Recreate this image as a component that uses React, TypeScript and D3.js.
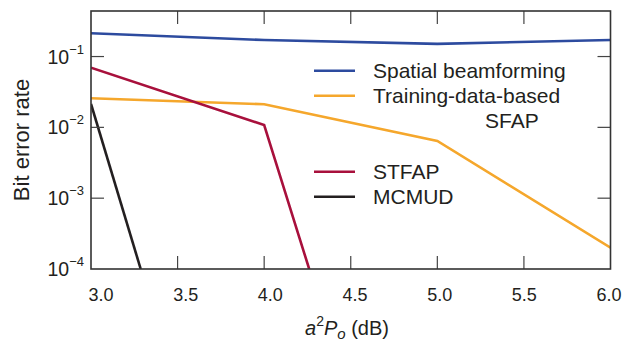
import React from "react";
import * as d3 from "d3";

const xTicks = [3.0, 3.5, 4.0, 4.5, 5.0, 5.5, 6.0];
const yTicks = [1e-1, 1e-2, 1e-3, 1e-4];
const yTickExp = ["−1", "−2", "−3", "−4"];

const spatialX = [3.0, 4.0, 5.0, 6.0];
const spatialY = [0.213, 0.171, 0.151, 0.171];
const trainingX = [3.0, 4.0, 5.0, 6.0];
const trainingY = [0.0258, 0.0212, 0.00643, 0.0002];
const stfapX = [3.0, 4.0, 4.26];
const stfapY = [0.0697, 0.0108, 0.0001];
const mcmudX = [3.0, 3.287];
const mcmudY = [0.0214, 0.0001];

const seriesNames = ["Spatial beamforming", "Training-data-based", "STFAP", "MCMUD"];
const colors = ["#2d4b9f", "#f5a72c", "#a8103c", "#231f20"];

const W = 630, H = 343;
const L = 91, R = 610.5, T = 11, B = 269;
const FONT = "'Liberation Sans', Arial, Helvetica, sans-serif";
const TXT = "#231f20";

export default function App() {
  const x = d3.scaleLinear().domain([3, 6]).range([L, R]);
  const xLab = d3.scaleLinear().domain([3, 6]).range([101, 609]);
  const y = d3.scaleLog().domain([1e-4, Math.pow(10, -0.357)]).range([B, T]);
  const line = d3.line<[number, number]>().x(d => x(d[0])).y(d => y(d[1]));
  const series = [
    { xs: spatialX, ys: spatialY },
    { xs: trainingX, ys: trainingY },
    { xs: stfapX, ys: stfapY },
    { xs: mcmudX, ys: mcmudY },
  ];
  const tickLen = 13;
  const legendRows = [
    { i: 0, y: 70.7 },
    { i: 1, y: 95.7 },
    { i: 2, y: 171.7 },
    { i: 3, y: 196.7 },
  ];
  return (
    <svg width={W} height={H} style={{ position: "fixed", left: 0, top: 0, background: "#fff" }} fontFamily={FONT}>
      <defs>
        <clipPath id="plot"><rect x={L} y={T} width={R - L} height={B - T} /></clipPath>
      </defs>
      <g clipPath="url(#plot)">
        {series.map((s, i) => (
          <path key={i} d={line(s.xs.map((v, j) => [v, s.ys[j]] as [number, number])) || ""}
            fill="none" stroke={colors[i]} strokeWidth={2.6} strokeLinejoin="miter" />
        ))}
      </g>
      {xTicks.slice(1, -1).map(t => (
        <g key={t} stroke="#444" strokeWidth={1.2}>
          <line x1={x(t)} x2={x(t)} y1={B} y2={B - tickLen} />
          <line x1={x(t)} x2={x(t)} y1={T} y2={T + tickLen} />
        </g>
      ))}
      {yTicks.slice(0, -1).map(t => (
        <g key={t} stroke="#444" strokeWidth={1.2}>
          <line x1={L} x2={L + tickLen} y1={y(t)} y2={y(t)} />
          <line x1={R} x2={R - tickLen} y1={y(t)} y2={y(t)} />
        </g>
      ))}
      <rect x={L} y={T} width={R - L} height={B - T} fill="none" stroke="#333" strokeWidth={1.6} />
      {xTicks.map(t => (
        <text key={t} x={xLab(t)} y={301} textAnchor="middle" fontSize={18} fill={TXT}>{t.toFixed(1)}</text>
      ))}
      {yTicks.map((t, i) => (
        <text key={t} x={84} y={y(t) + 7} textAnchor="end" fontSize={19.5} fill={TXT}>
          10<tspan fontSize={13} dy={-10}>{yTickExp[i]}</tspan>
        </text>
      ))}
      <text transform={`translate(29,140) rotate(-90)`} textAnchor="middle" fontSize={22} fill={TXT}>Bit error rate</text>
      <text x={305} y={335} fontSize={20} fill={TXT}>
        <tspan fontStyle="italic">a</tspan>
        <tspan fontSize={14} dy={-9}>2</tspan>
        <tspan fontStyle="italic" dy={9}>P</tspan>
        <tspan fontStyle="italic" fontSize={15} dy={4}>o</tspan>
        <tspan dy={-4}> (dB)</tspan>
      </text>
      {legendRows.map(r => (
        <g key={r.i}>
          <line x1={314} x2={355} y1={r.y} y2={r.y} stroke={colors[r.i]} strokeWidth={2.6} />
          <text x={373} y={r.y + 7.6} fontSize={21} fill={TXT}>{seriesNames[r.i]}</text>
        </g>
      ))}
      <text x={485} y={128.3} fontSize={21} fill={TXT}>SFAP</text>
    </svg>
  );
}
